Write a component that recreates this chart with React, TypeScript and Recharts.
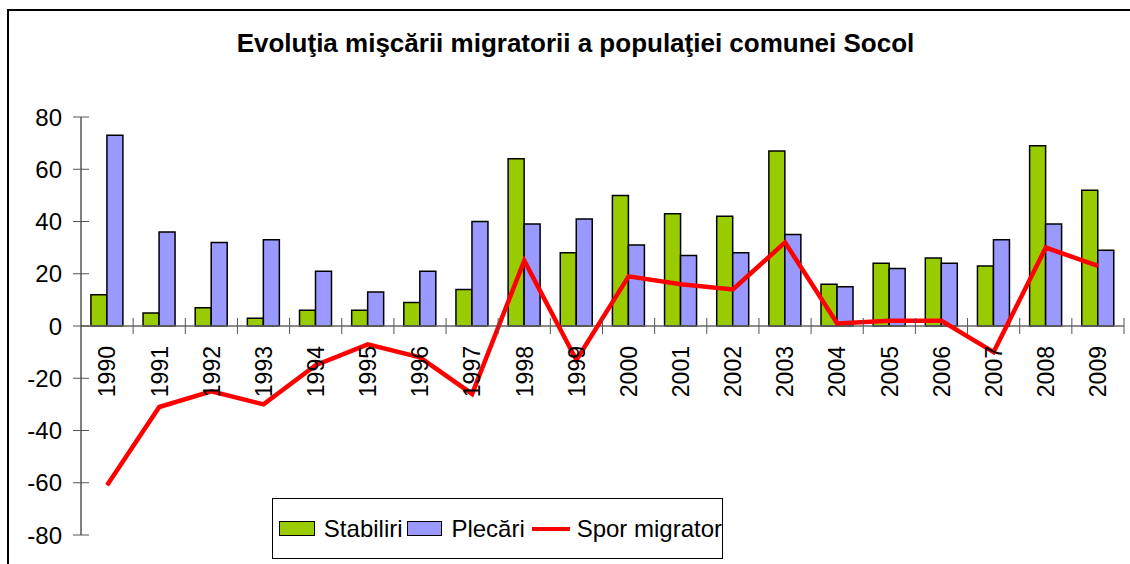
import { ComposedChart, Bar, Line, XAxis, YAxis, ReferenceLine, Legend } from 'recharts';

const years = ['1990', '1991', '1992', '1993', '1994', '1995', '1996', '1997', '1998', '1999',
  '2000', '2001', '2002', '2003', '2004', '2005', '2006', '2007', '2008', '2009'];
const stabiliri = [12, 5, 7, 3, 6, 6, 9, 14, 64, 28, 50, 43, 42, 67, 16, 24, 26, 23, 69, 52];
const plecari = [73, 36, 32, 33, 21, 13, 21, 40, 39, 41, 31, 27, 28, 35, 15, 22, 24, 33, 39, 29];
const spor = [-61, -31, -25, -30, -15, -7, -12, -26, 25, -13, 19, 16, 14, 32, 1, 2, 2, -10, 30, 23];
const yTicks = [-80, -60, -40, -20, 0, 20, 40, 60, 80];

const data = years.map((year, i) => ({
  year,
  stabiliri: stabiliri[i],
  plecari: plecari[i],
  spor: spor[i],
}));

const FONT = '"Liberation Sans", Arial, sans-serif';
const W = 1130;
const H = 564;
const PLOT_LEFT = 81;
const PLOT_TOP = 117;
const PLOT_RIGHT = 1124;
const PLOT_BOTTOM = 535;
const PLOT_H = PLOT_BOTTOM - PLOT_TOP;
const BAND = (PLOT_RIGHT - PLOT_LEFT) / years.length;
const ZERO_Y = PLOT_TOP + PLOT_H / 2; // domain is symmetric

const XTick = (props: any) => {
  const { x, payload } = props;
  return (
    <g>
      <line x1={x + BAND / 2} x2={x + BAND / 2} y1={ZERO_Y - 8} y2={ZERO_Y + 8} stroke="#555" strokeWidth={1} />
      <text
        transform={`translate(${x},${ZERO_Y + 20}) rotate(-90)`}
        textAnchor="end"
        dy="0.36em"
        fontSize={23}
        fontFamily={FONT}
        fill="#000"
      >
        {payload.value}
      </text>
    </g>
  );
};

const YTick = (props: any) => {
  const { y, payload } = props;
  return (
    <g>
      <line x1={PLOT_LEFT - 8} x2={PLOT_LEFT + 8} y1={y} y2={y} stroke="#555" strokeWidth={1} />
      <text x={PLOT_LEFT - 19} y={y} dy="0.36em" textAnchor="end" fontSize={24} fontFamily={FONT} fill="#000">
        {payload.value}
      </text>
    </g>
  );
};

const swatch = (color: string) => (
  <span style={{ display: 'inline-block', width: 34, height: 13, background: color, border: '1.5px solid #000', marginRight: 9 }} />
);

const LegendContent = () => (
  <div style={{ display: 'flex', alignItems: 'center', height: '100%', paddingLeft: 6, fontFamily: FONT, fontSize: 24, color: '#000', whiteSpace: 'nowrap' }}>
    {swatch('#99CC00')}
    <span style={{ marginRight: 4 }}>Stabiliri</span>
    {swatch('#9999FF')}
    <span style={{ marginRight: 7 }}>Plecări</span>
    <span style={{ display: 'inline-block', width: 38, height: 4, background: '#FF0000', marginRight: 7 }} />
    <span>Spor migrator</span>
  </div>
);

export default function App() {
  return (
    <div style={{ position: 'fixed', left: 0, top: 0, width: W, height: H, overflow: 'hidden', background: '#fff' }}>
      <div style={{ position: 'absolute', left: 7, top: 9, width: W + 20, height: H + 20, border: '2px solid #000' }} />
      <div
        style={{
          position: 'absolute', left: 0, top: 28, width: 1151, textAlign: 'center',
          fontFamily: FONT, fontWeight: 'bold', fontSize: 26, color: '#000',
        }}
      >
        Evoluţia mişcării migratorii a populaţiei comunei Socol
      </div>
      <div style={{ position: 'absolute', left: 0, top: 0 }}>
        <ComposedChart
          width={W}
          height={H}
          data={data}
          margin={{ top: PLOT_TOP, right: W - PLOT_RIGHT, bottom: H - PLOT_BOTTOM - 1, left: 0 }}
          barCategoryGap="19%"
          barGap={0}
        >
          <XAxis dataKey="year" height={1} axisLine={false} tickLine={false} tick={<XTick />} interval={0} />
          <YAxis
            width={PLOT_LEFT}
            domain={[-80, 80]}
            ticks={yTicks}
            interval={0}
            axisLine={{ stroke: '#000', strokeWidth: 1 }}
            tickLine={false}
            tick={<YTick />}
          />
          <ReferenceLine y={0} stroke="#666" strokeWidth={1.5} />
          <Bar dataKey="stabiliri" name="Stabiliri" fill="#99CC00" stroke="#000" strokeWidth={1.5} isAnimationActive={false} />
          <Bar dataKey="plecari" name="Plecări" fill="#9999FF" stroke="#000" strokeWidth={1.5} isAnimationActive={false} />
          <Line dataKey="spor" name="Spor migrator" type="linear" stroke="#FF0000" strokeWidth={4.5} dot={false} activeDot={false} isAnimationActive={false} />
          <Legend
            layout="horizontal"
            verticalAlign="middle"
            align="center"
            content={<LegendContent />}
            wrapperStyle={{ left: 272, top: 498, width: 451, height: 61, border: '1px solid #000', boxSizing: 'border-box', background: '#fff', overflow: 'hidden' }}
          />
        </ComposedChart>
      </div>
    </div>
  );
}
